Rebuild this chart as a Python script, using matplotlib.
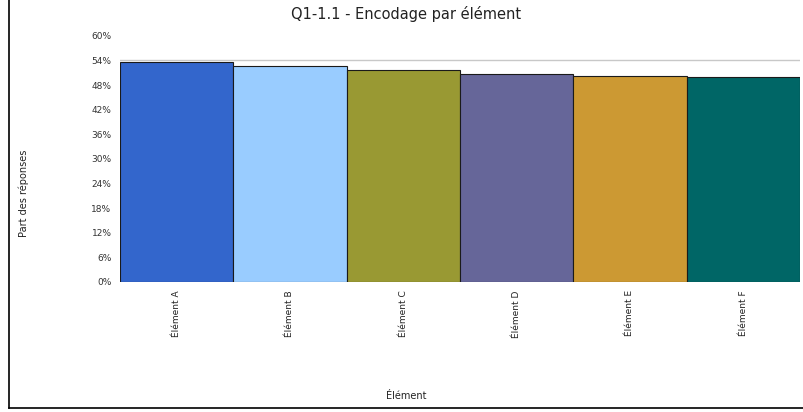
import matplotlib
matplotlib.use('Agg')
import matplotlib.pyplot as plt
from matplotlib.lines import Line2D

# data
elements = ['Élément A', 'Élément B', 'Élément C', 'Élément D', 'Élément E', 'Élément F']
values = [53.7, 52.7, 51.7, 50.7, 50.2, 50.0]
colors = ['#3366cc', '#99ccff', '#999933', '#666699', '#cc9933', '#006666']
yticks = [0, 6, 12, 18, 24, 30, 36, 42, 48, 54, 60]

fig = plt.figure(figsize=(8.04, 4.12), dpi=100)
ax = fig.add_axes([0.149, 0.316, 0.846, 0.597])

# light gridlines, hidden behind the bars except above them
for t in yticks[:-1]:
    ax.axhline(t, color='#c8c8c8', linewidth=1, zorder=0)

x = range(len(elements))
ax.bar(x, values, width=1.0, color=colors, edgecolor='#1a1a1a', linewidth=0.8, zorder=2)

ax.set_xlim(-0.5, len(elements) - 0.5)
ax.set_ylim(0, 60)
ax.set_yticks(yticks)
ax.set_yticklabels([f'{t}%' for t in yticks], fontsize=6.5, color='#333333')
ax.set_xticks(list(x))
ax.set_xticklabels(elements, rotation=90, fontsize=6.5, color='#222222')
ax.tick_params(length=0, pad=6)
for s in ax.spines.values():
    s.set_visible(False)

# title and axis names are centred on the picture, not on the plot area
fig.text(0.505, 0.965, 'Q1-1.1 - Encodage par élément', ha='center', va='center',
         fontsize=10.5, color='#222222')
fig.text(0.03, 0.53, 'Part des réponses', rotation=90, ha='center', va='center',
         fontsize=7, color='#222222')
fig.text(0.505, 0.04, 'Élément', ha='center', va='center', fontsize=7, color='#222222')

# frame lines on the left and bottom of the picture
fig.add_artist(Line2D([0.011, 0.011], [0.01, 1.0], color='black', linewidth=1.2))
fig.add_artist(Line2D([0.011, 1.0], [0.01, 0.01], color='black', linewidth=1.2))

fig.savefig('out.png', dpi=100)
